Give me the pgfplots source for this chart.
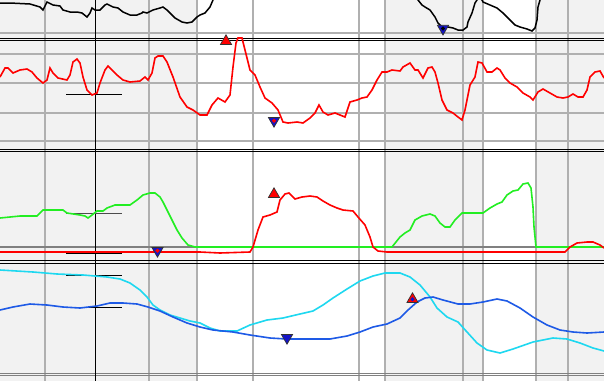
\documentclass[border=0pt]{standalone}
\usepackage{pgfplots}
\pgfplotsset{compat=1.18}
\definecolor{bg}{HTML}{F2F2F2}
\definecolor{gridg}{HTML}{B0B0B0}
\definecolor{darkg}{HTML}{808080}
\definecolor{lgreen}{HTML}{22EE22}
\definecolor{lcyan}{HTML}{1ED8F0}
\definecolor{lblue}{HTML}{1E5AE6}
\definecolor{mblue}{HTML}{1414C8}
\begin{document}
\begin{tikzpicture}
\begin{axis}[name=ax, scale only axis, width=604pt, height=381pt,
  xmin=0, xmax=604, ymin=0, ymax=381, y dir=reverse, hide axis, clip=true]
% background bands
\fill[bg] (axis cs:0,0) rectangle (axis cs:604,381);
\fill[white] (axis cs:197,0) rectangle (axis cs:385,381);
\fill[white] (axis cs:483,0) rectangle (axis cs:536,381);
% vertical grid
\pgfplotsinvokeforeach{45,149,197,253,359,385,463,483,536,568}{
  \draw[gridg, line width=1.3pt] (axis cs:#1,0) -- (axis cs:#1,381);
}
% horizontal grid
\pgfplotsinvokeforeach{33,54,83,113,141}{
  \draw[gridg, line width=1.3pt] (axis cs:0,#1) -- (axis cs:604,#1);
}
\draw[darkg, line width=1.4pt] (axis cs:0,247) -- (axis cs:604,247);
\draw[darkg, line width=1pt] (axis cs:0,373) -- (axis cs:604,373);
\draw[darkg, line width=1pt] (axis cs:0,375.5) -- (axis cs:604,375.5);
% cursor
\draw[black, line width=1pt] (axis cs:95,0) -- (axis cs:95,381);
% separators
\pgfplotsinvokeforeach{38,40.5,149,151.5,260.5,263}{
  \draw[black, line width=1pt] (axis cs:0,#1) -- (axis cs:604,#1);
}
% level markers
\pgfplotsinvokeforeach{94,253,275,307}{
  \draw[black, line width=1pt] (axis cs:66,#1) -- (axis cs:122,#1);
}
\draw[black!70, line width=1pt] (axis cs:66,213) -- (axis cs:122,213);
% Panel 1: black
\addplot[black, line width=1.5pt] coordinates {
(0,3) (10,3) (30,4) (40,7) (43,10) (47,2) (53,5) (60,6) (63,10) (70,12) (77,12) (82,13) (87,17) (90,13) (92,8) (95,10) (100,10) (105,5) (107,4) (113,7) (118,8) (123,12) (130,15) (137,15) (142,13) (143,12) (147,13) (153,10) (160,8) (163,7) (167,10) (170,13) (175,18) (182,22) (187,23) (192,22) (197,17) (200,15) (205,13) (210,7) (213,0) (216,-10) (415,-10) (418,0) (422,5) (425,7) (430,10) (435,17) (438,23) (442,27) (448,27) (453,28) (458,30) (463,30) (467,27) (468,22) (472,13) (475,3) (477,0) (479,-3) (482,0) (483,2) (490,5) (497,8) (503,13) (510,20) (515,25) (520,27) (527,29) (532,31) (535,28) (537,20) (538,7) (540,0) (542,-10) (604,-10)
};
% Panel 2: red
\addplot[red, line width=1.6pt] coordinates {
(0,77) (5,68) (8,68) (13,73) (20,70) (27,69) (32,72) (37,78) (43,83) (47,80) (50,68) (53,73) (58,78) (67,80) (70,75) (73,62) (77,59) (80,63) (83,77) (87,90) (92,95) (97,93) (100,83) (105,70) (108,66) (112,70) (117,75) (123,80) (130,82) (140,81) (145,77) (148,80) (152,73) (155,58) (158,56) (163,56) (167,62) (173,77) (180,97) (187,107) (193,110) (200,115) (207,115) (212,105) (218,98) (225,102) (230,95) (233,67) (236,43) (238,38) (242,38) (245,50) (250,70) (255,75) (260,87) (265,98) (272,103) (278,110) (283,122) (288,123) (297,122) (303,123) (310,118) (315,113) (319,105) (323,112) (328,115) (335,113) (340,115) (345,117) (350,102) (357,100) (362,98) (367,97) (372,90) (377,80) (382,72) (387,72) (392,70) (400,71) (403,67) (410,63) (415,70) (418,70) (423,78) (428,68) (432,67) (435,72) (438,83) (442,100) (447,110) (453,113) (458,117) (462,120) (465,110) (470,85) (475,77) (478,62) (482,63) (487,72) (492,72) (497,68) (500,70) (505,78) (510,83) (517,87) (523,93) (530,97) (533,100) (538,92) (543,89) (550,93) (557,97) (563,98) (568,97) (573,94) (578,97) (583,97) (587,90) (590,77) (595,72) (600,71) (604,78)
};
% Panel 3: green
\addplot[lgreen, line width=1.6pt] coordinates {
(0,218) (10,217) (20,216) (37,216) (43,210) (63,210) (67,213) (80,215) (85,216) (88,218) (92,215) (97,211) (103,211) (107,208) (115,205) (130,205) (137,200) (143,195) (150,193) (155,193) (160,197) (163,202) (167,210) (172,220) (177,230) (182,238) (188,245) (195,247) (200,247) (392,247) (400,237) (405,233) (410,230) (415,220) (422,216) (430,214) (435,216) (440,223) (445,227) (450,227) (455,220) (462,213) (483,213) (490,208) (497,204) (502,202) (507,195) (513,191) (518,190) (523,184) (528,183) (531,188) (533,207) (534,227) (536,247) (604,247)
};
% Panel 3: red
\addplot[red, line width=1.6pt] coordinates {
(0,252) (200,252) (220,253) (250,252) (253,247) (258,230) (263,217) (270,215) (277,212) (280,200) (285,194) (289,193) (295,199) (302,197) (310,196) (317,197) (323,201) (330,205) (337,208) (343,210) (353,211) (358,217) (365,225) (370,237) (373,247) (378,251) (387,252) (565,252) (570,247) (577,243) (587,242) (593,242) (600,245) (604,248)
};
% Panel 4: cyan
\addplot[lcyan, line width=1.6pt] coordinates {
(0,270) (33,272) (57,274) (83,275) (107,277) (120,279) (130,283) (140,290) (147,297) (153,305) (160,310) (170,315) (180,318) (190,321) (200,323) (210,328) (220,331) (237,331) (250,325) (267,320) (283,318) (300,314) (313,311) (323,305) (333,298) (347,289) (360,281) (373,276) (385,273) (400,273) (410,277) (420,285) (430,297) (437,308) (447,317) (458,322) (467,332) (477,343) (487,350) (500,353) (513,349) (533,342) (553,338) (567,339) (580,343) (593,348) (604,351)
};
% Panel 4: blue
\addplot[lblue, line width=1.6pt] coordinates {
(0,310) (13,307) (30,304) (47,305) (63,307) (80,308) (97,306) (110,303) (123,303) (137,304) (148,307) (160,311) (173,317) (187,323) (200,327) (213,330) (233,332) (250,335) (270,338) (287,339) (307,339) (330,339) (347,336) (360,332) (373,327) (387,324) (400,318) (408,310) (417,302) (425,298) (433,297) (443,300) (458,304) (470,304) (483,302) (497,299) (507,301) (520,308) (533,317) (547,325) (560,330) (573,332) (587,333) (604,332)
};
% markers: up (red)
\addplot[only marks, mark=triangle*, mark size=6.5pt, mark options={fill=red, draw=black!80, line width=0.7pt}] coordinates {(226,41.3) (274,194.3) (412.5,299.3)};
% markers: down (blue)
\addplot[only marks, mark=triangle*, mark size=6.5pt, mark options={rotate=180, fill=mblue, draw=black!80, line width=0.7pt}] coordinates {(443,28.5) (274,120.7) (157.5,250.7) (287,337.7)};
% inner dots
\addplot[only marks, mark=*, mark size=1.8pt, mark options={fill=red, draw=red}] coordinates {(274,120.7) (157.5,250.7)};
\addplot[only marks, mark=*, mark size=1.8pt, mark options={fill=black, draw=black}] coordinates {(443,28.5)};
\addplot[only marks, mark=*, mark size=1.8pt, mark options={fill=mblue, draw=mblue}] coordinates {(412.5,299.3)};
\end{axis}
\pgfresetboundingbox
\path (ax.south west) rectangle (ax.north east);
\end{tikzpicture}
\end{document}
